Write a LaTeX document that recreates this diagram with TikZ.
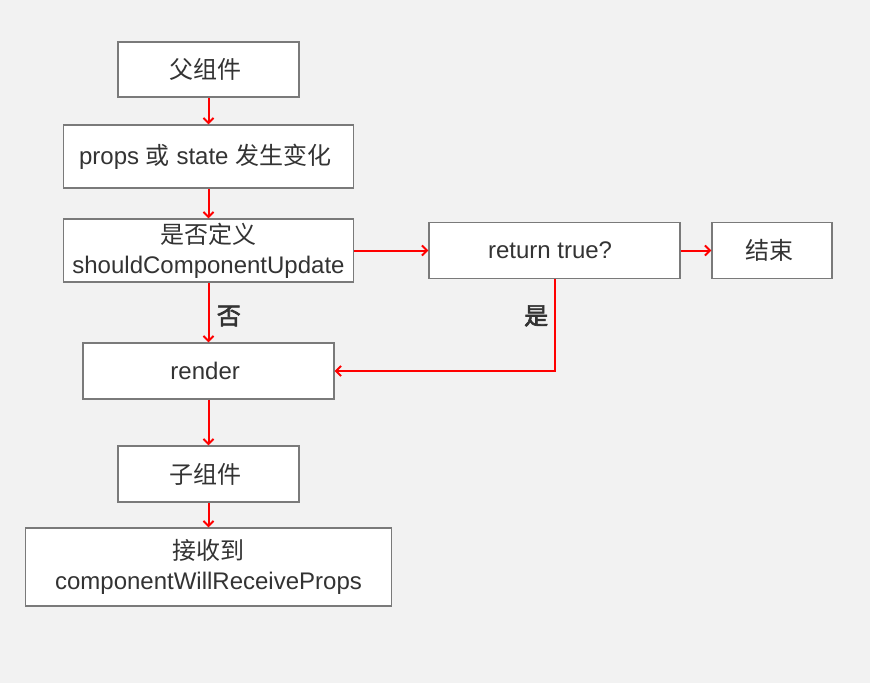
\documentclass[tikz,border=0pt]{standalone}
\usepackage{fontspec}
\setmainfont{Liberation Sans}
\newfontfamily\cjk{Noto Sans CJK SC}[AutoFakeBold=2.5]
\usetikzlibrary{arrows.meta,positioning}
\definecolor{bggray}{HTML}{F2F2F2}
\definecolor{boxgray}{HTML}{7A7A7A}
\definecolor{txtgray}{HTML}{333333}

\begin{document}
\begin{tikzpicture}[x=1pt,y=-1pt]
\tikzstyle{every node}=[font=\fontsize{24}{30}\selectfont, text=txtgray]
\tikzstyle{box}=[rectangle, draw=boxgray, fill=white, line width=1.3pt,
align=center, inner sep=0pt]
\tikzstyle{flow}=[draw=red, line width=2pt,
-{Straight Barb[length=5pt,width=10pt,line width=2pt]}]

% background
\fill[bggray] (0,0) rectangle (870,683);

\node[box, minimum width=181pt, minimum height=55pt] at (208.5, 69.5) (parent) {
\cjk 父组件
};

\node[box, minimum width=290pt, minimum height=63pt] at (208.5, 156.5) (change) {
props {\cjk 或} state {\cjk 发生变化}
};

\node[box, minimum width=290pt, minimum height=63pt] at (208.5, 250.5) (check) {
{\cjk 是否定义}\\
shouldComponentUpdate
};

\node[box, minimum width=251pt, minimum height=56pt] at (554.5, 250.5) (ret) {
return true?
};

\node[box, minimum width=120pt, minimum height=56pt] at (772, 250.5) (done) {
\cjk 结束
};

\node[box, minimum width=251pt, minimum height=56pt] at (208.5, 371) (render) {
render
};

\node[box, minimum width=181pt, minimum height=56pt] at (208.5, 474) (child) {
\cjk 子组件
};

\node[box, minimum width=366pt, minimum height=78pt] at (208.5, 567) (receive) {
{\cjk 接收到}\\
componentWillReceiveProps
};


\draw[flow] (parent.south) -- (change.north);
\draw[flow] (change.south) -- (check.north);
\draw[flow] (check.south) -- node[pos=0.56, right=4pt] {\cjk\bfseries 否} (render.north);
\draw[flow] (check.east) -- (ret.west);
\draw[flow] (ret.east) -- (done.west);
\draw[flow] (ret.south) |- node[pos=0.2, left=2pt] {\cjk\bfseries 是} (render.east);
\draw[flow] (render.south) -- (child.north);
\draw[flow] (child.south) -- (receive.north);

\end{tikzpicture}
\end{document}
